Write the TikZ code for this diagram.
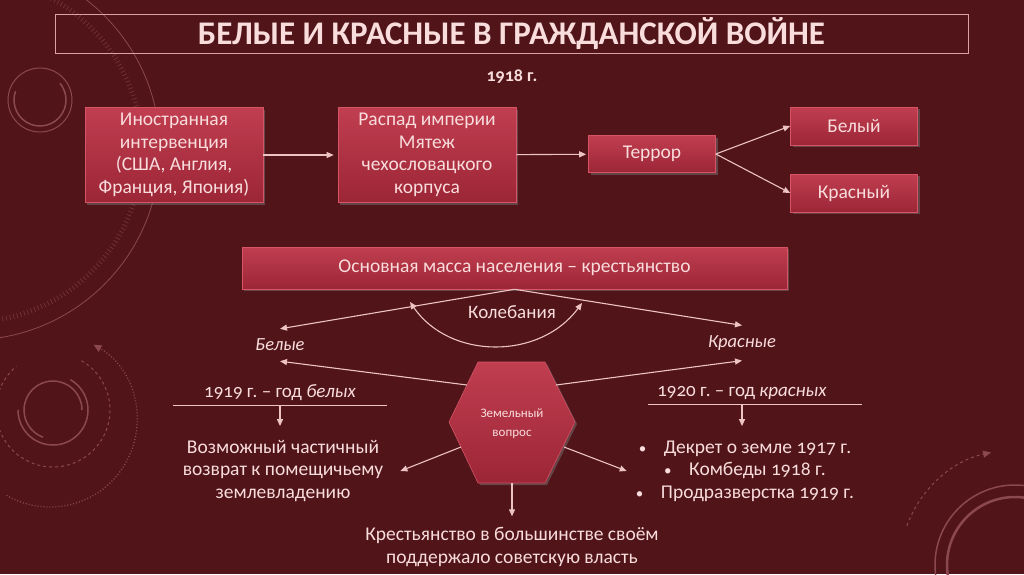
\documentclass[tikz,border=0pt]{standalone}
\usepackage{fontspec}
\setmainfont{Carlito}[Numbers=OldStyle]
\usetikzlibrary{positioning,arrows.meta,shadows,calc}
\frenchspacing

\definecolor{bgred}{HTML}{501419}
\definecolor{ink}{HTML}{F9DCDC}
\definecolor{boxtop}{HTML}{C03E50}
\definecolor{boxbot}{HTML}{9C2636}
\definecolor{boxedge}{HTML}{D75466}
\definecolor{linec}{HTML}{EDC3C3}
\definecolor{framec}{HTML}{D9A3A3}
\definecolor{deco}{HTML}{8C4850}

\newcommand{\bul}{{\fontsize{15}{15}\selectfont•}\hspace{0.9em}}

\begin{document}
\begin{tikzpicture}[x=1pt, y=-1pt,
    font=\fontsize{19.5}{22.5}\selectfont, text=ink,
    box/.style={
        draw=boxedge, line width=0.6pt, top color=boxtop, bottom color=boxbot,
        align=center, inner sep=3pt,
        drop shadow={opacity=0.45, shadow xshift=2pt, shadow yshift=-2pt}},
    bigbox/.style={box, minimum width=178pt, minimum height=95pt},
    smallbox/.style={box, minimum width=127pt, minimum height=38pt},
    plain/.style={align=center, inner sep=3pt},
    side/.style={font=\fontsize{18.5}{22}\selectfont\itshape, inner xsep=2pt, inner ysep=10pt},
    yearlbl/.style={font=\fontsize{19}{22}\selectfont, inner ysep=4.5pt},
    arr/.style={-{Triangle[length=7pt,width=6pt]}, line width=1.1pt, draw=linec},
    bi/.style={{Triangle[length=7pt,width=6pt]}-{Triangle[length=7pt,width=6pt]},
               line width=1.1pt, draw=linec},
    rule/.style={line width=1pt, draw=linec},
    ring/.style={draw=deco, line width=1pt},
]

% ---- background ----
\fill[bgred] (0,0) rectangle (1024,574);
\useasboundingbox (0,0) rectangle (1024,574);

% ---- decorations ----
\draw[ring, line width=0.8pt] (-30,150) circle[radius=190];
\draw[ring, line width=5pt, dash pattern=on 0.7pt off 3pt, opacity=0.6] (-30,150) circle[radius=172];
\draw[ring] (40,100) circle[radius=32];
\draw[ring, line width=1.5pt] (40,100) ++(200:26) arc[start angle=200, end angle=-40, radius=26];
\draw[ring, line width=1.5pt] (53,410) ++(180:35) arc[start angle=180, end angle=-60, radius=35];
\draw[ring, line width=1.5pt] (53,410) ++(0:29) arc[start angle=0, end angle=-250, radius=29];
\draw[ring, dashed] (53,410) ++(-60:57) arc[start angle=-60, end angle=230, radius=57];
\draw[ring, dotted, line width=1.3pt, -{Triangle[length=8pt,width=7pt]}]
    (50,420) ++(120:87) arc[start angle=120, end angle=-60, radius=87];
\draw[ring, line width=1.5pt] (1015,565) circle[radius=80];
\draw[ring, line width=2.5pt] (1015,565) circle[radius=68];
\draw[ring, dashed, -{Triangle[length=8pt,width=7pt]}]
    (1015,565) ++(200:115) arc[start angle=200, end angle=258, radius=115];

% ---- title ----
\node[draw=framec, line width=0.8pt, minimum width=913pt, minimum height=37pt,
      font=\fontsize{33}{36}\selectfont\bfseries] (title) at (511.5,34) {БЕЛЫЕ И КРАСНЫЕ В ГРАЖДАНСКОЙ ВОЙНЕ};
\node[font=\fontsize{18}{20}\selectfont\bfseries] (year) at (512,77) {1918 г.};

% ---- 1918 chain ----
\node[bigbox] (interv) at (174,155) {Иностранная\\интервенция\\(США, Англия,\\Франция, Япония)};
\node[bigbox] (collapse) at (427,155) {Распад империи\\Мятеж\\чехословацкого\\корпуса};
\node[smallbox, minimum height=37pt] (terror) at (652,154) {Террор};
\node[smallbox] (white) at (854,126) {Белый};
\node[smallbox] (red) at (854,193) {Красный};

\draw[arr, shorten >=4pt] (interv) -- (collapse);
\draw[arr, shorten >=2pt] (collapse) -- (terror);
\draw[arr] (terror.east) -- (white.west);
\draw[arr] (terror.east) -- (red.west);

% ---- peasantry ----
\node[box, minimum width=545pt, minimum height=42pt] (mass) at (514.5,268)
    {Основная масса населения – крестьянство};
\node[font=\fontsize{19}{22}\selectfont] (kol) at (512,312) {Колебания};
\node[side] (bel) at (280,345) {Белые};
\node[side] (kras) at (742,343) {Красные};

\draw[arr] (mass.south) -- (bel.north);
\draw[arr] (mass.south) -- (kras.north);
\coordinate (kolL) at (410,302);
\coordinate (kolR) at (582,303);
\draw[bi] (kolL) .. controls (450,360) and (540,360) .. (kolR);

% ---- land question ----
\coordinate (hc) at (512,422);
\fill[draw=boxedge, line width=0.6pt, top color=boxtop, bottom color=boxbot,
      drop shadow={opacity=0.45, shadow xshift=2pt, shadow yshift=-2pt}]
    (hc) ++(-34,-60) -- ++(67,0) -- ++(30,60) -- ++(-30,61) -- ++(-67,0) -- ++(-29,-61) -- cycle;
\node[plain, font=\fontsize{13}{19}\selectfont] (hex) at (512,424) {Земельный\\вопрос};
\coordinate (hexUL) at (467,385);
\coordinate (hexUR) at (556,385);
\coordinate (hexLL) at (461,447);
\coordinate (hexLR) at (564,447);
\coordinate (hexB) at (512,483);

\draw[arr] (hexUL) -- (bel.south);
\draw[arr] (hexUR) -- (kras.south);

% ---- 1919 / 1920 ----
\node[yearlbl, minimum width=213pt] (y19) at (280,393) {1919 г. – год \textit{белых}};
\node[yearlbl] (y20) at (742,393) {1920 г. – год \textit{красных}};
\draw[rule] (y19.south west) -- (y19.south east);
\draw[rule] ($(y20.south)+(-94,0)$) -- ($(y20.south)+(120,0)$);

\node[plain, inner xsep=17pt, inner ysep=14pt] (land) at (283,471)
    {Возможный частичный\\возврат к помещичьему\\землевладению};
\node[plain, inner xsep=9pt] (decree) at (745,471)
    {\bul Декрет о земле 1917 г.\\\bul Комбеды 1918 г.\\\bul Продразверстка 1919 г.};
\node[plain, inner ysep=11pt] (concl) at (512,547)
    {Крестьянство в большинстве своём\\поддержало советскую власть};

\draw[arr] (y19.south) -- (y19.south |- land.north);
\draw[arr] (y20.south) -- (y20.south |- land.north);
\draw[arr] (hexLL) -- (land.east);
\draw[arr] (hexLR) -- (decree.west);
\draw[arr] (hexB) -- (concl.north);

\end{tikzpicture}
\end{document}
